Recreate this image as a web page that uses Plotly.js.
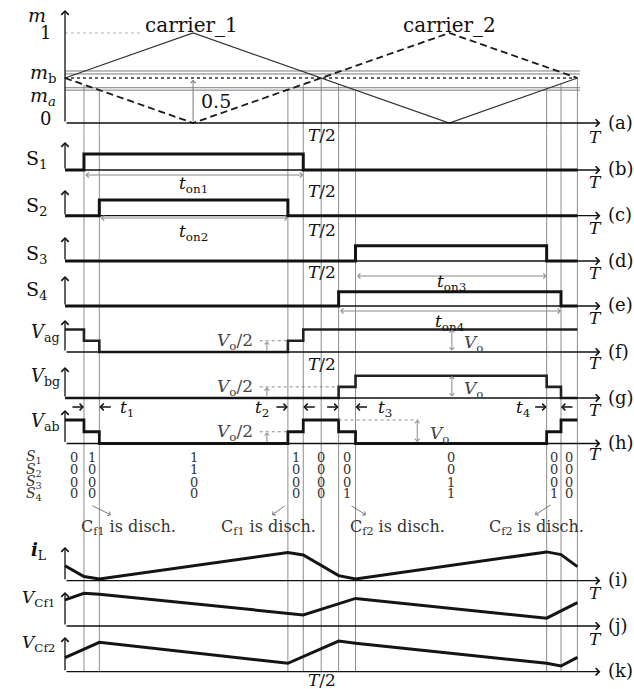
<!DOCTYPE html>
<html>
<head>
<meta charset="utf-8">
<script src="https://cdn.plot.ly/plotly-3.0.1.min.js"></script>
<style>
  html, body { margin: 0; padding: 0; background: #fff; }
  #myDiv { width: 634px; height: 689px; }
</style>
</head>
<body>
<div id="myDiv"></div>
<script>
// all times are in units of the switching period T

// (a) carriers and the two modulation references
var carrierT = [0, 0.25, 0.75, 1];
var carrier1 = [0.5, 1, 0, 0.5];
var carrier2 = [0.5, 0, 1, 0.5];
var refLevels = [0.365, 0.392, 0.545, 0.578];   // m_a and m_b (double lines)
var halfLevel = 0.5;

// instants where the gray guide lines are drawn
var tLines = [0.037, 0.067, 0.435, 0.465, 0.5, 0.534, 0.567, 0.94, 0.968, 1];
// boundaries of the switching states (table columns)
var tStates = [0, 0.037, 0.067, 0.435, 0.465, 0.534, 0.567, 0.94, 0.968, 1];

// (b)-(e) gate signals
var s1T = [0, 0.037, 0.465, 1], s1 = [0, 1, 0, 0];
var s2T = [0, 0.067, 0.435, 1], s2 = [0, 1, 0, 0];
var s3T = [0, 0.567, 0.94, 1],  s3 = [0, 1, 0, 0];
var s4T = [0, 0.534, 0.968, 1], s4 = [0, 1, 0, 0];

// (f)-(h) leg voltages, in units of Vo
var vagT = [0, 0.037, 0.067, 0.435, 0.465, 1];
var vag  = [1, 0.5, 0, 0.5, 1, 1];
var vbgT = [0, 0.534, 0.567, 0.94, 0.968, 1];
var vbg  = [0, 0.5, 1, 0.5, 0, 0];
var vabT = [0, 0.037, 0.067, 0.435, 0.465, 0.534, 0.567, 0.94, 0.968, 1];
var vab  = [1, 0.5, 0, 0.5, 1, 0.5, 0, 0.5, 1, 1];

// switching state table
var stateS1 = [0, 1, 1, 1, 0, 0, 0, 0, 0];
var stateS2 = [0, 0, 1, 0, 0, 0, 0, 0, 0];
var stateS3 = [0, 0, 0, 0, 0, 0, 1, 0, 0];
var stateS4 = [0, 0, 0, 0, 0, 1, 1, 1, 0];

// (i)-(k) inductor current and flying capacitor voltages (normalised)
var iLT = [0, 0.037, 0.067, 0.435, 0.465, 0.534, 0.567, 0.94, 0.968, 1];
var iL  = [0.5, 0.14, 0.06, 0.94, 0.86, 0.17, 0.06, 0.96, 0.87, 0.47];
var vcf1T = [0, 0.037, 0.067, 0.465, 0.567, 0.94, 1];
var vcf1  = [0.87, 1.09, 1.06, 0.37, 0.92, 0.26, 0.78];
var vcf2T = [0, 0.067, 0.435, 0.534, 0.567, 0.94, 0.968, 1];
var vcf2  = [0.47, 0.98, 0.28, 1.02, 0.95, 0.28, 0.19, 0.48];

var discharge = ['C<sub>f1</sub> is disch.', 'C<sub>f1</sub> is disch.', 'C<sub>f2</sub> is disch.', 'C<sub>f2</sub> is disch.'];

// ---------------------------------------------------------------
var W = 634, H = 689;
var X0 = 65, XT = 512.4;          // pixel of t=0 and pixels per T
var FONT = 'DejaVu Serif';
var INK = '#141414', GUIDE = '#8d8d8d';

function py(y) { return 1 - y / H; }
function px(x) { return x / W; }

var panels = [
  {ax: 'y',   base: 123,   unit: 90,   top: 10,  lo: -0.12, hi: 1.12, tY: 137, tag: '(a)'},
  {ax: 'y2',  base: 170,   unit: 16,   top: 142, lo: -0.3, hi: 1.4, tY: 182, tag: '(b)'},
  {ax: 'y3',  base: 215.7, unit: 15.7, top: 190, lo: -0.3, hi: 1.4, tY: 228, tag: '(c)'},
  {ax: 'y4',  base: 261,   unit: 15.3, top: 237, lo: -0.3, hi: 1.4, tY: 273, tag: '(d)'},
  {ax: 'y5',  base: 306,   unit: 14.3, top: 276, lo: -0.3, hi: 1.4, tY: 318, tag: '(e)'},
  {ax: 'y6',  base: 352,   unit: 22.5, top: 320, lo: -0.3, hi: 1.4, tY: 363, tag: '(f)'},
  {ax: 'y7',  base: 398,   unit: 22.2, top: 367, lo: -0.3, hi: 1.4, tY: 410, tag: '(g)'},
  {ax: 'y8',  base: 443.5, unit: 23.5, top: 410, lo: -0.3, hi: 1.4, tY: 454, tag: '(h)'},
  {ax: 'y9',  base: 580.7, unit: 30,   top: 547, lo: -0.2, hi: 1.2, tY: 593, tag: '(i)'},
  {ax: 'y10', base: 626,   unit: 30,   top: 592, lo: -0.2, hi: 1.2, tY: 639, tag: '(j)'},
  {ax: 'y11', base: 671.7, unit: 30,   top: 637, lo: -0.2, hi: 1.2, tY: null, tag: '(k)'}
];

var layout = {
  width: W, height: H,
  margin: {l: 0, r: 0, t: 0, b: 0},
  paper_bgcolor: '#fff', plot_bgcolor: 'rgba(0,0,0,0)',
  showlegend: false,
  xaxis: {range: [-X0 / XT, (W - X0) / XT], domain: [0, 1], visible: false, fixedrange: true},
  annotations: [],
  shapes: []
};

panels.forEach(function (p) {
  var key = p.ax === 'y' ? 'yaxis' : 'yaxis' + p.ax.slice(1);
  p.domain = [py(p.base - p.lo * p.unit), py(p.base - p.hi * p.unit)];
  layout[key] = {domain: p.domain, range: [p.lo, p.hi], anchor: 'x', visible: false, fixedrange: true};
});

function P(id) { return panels.filter(function (p) { return p.tag === '(' + id + ')'; })[0]; }

var data = [];
function line(x, y, ax, style, shape) {
  data.push({x: x, y: y, yaxis: ax, type: 'scatter', mode: 'lines', hoverinfo: 'skip',
             line: Object.assign({shape: shape || 'linear'}, style)});
}

// (a)
refLevels.forEach(function (lv) { line([0, 1.005], [lv, lv], 'y', {color: '#7a7a7a', width: 1}); });
line([0, 1], [halfLevel, halfLevel], 'y', {color: '#333', width: 1.6, dash: 'dot'});
line([0, 0.15], [1, 1], 'y', {color: '#b0b0b0', width: 1, dash: 'dot'});
line(carrierT, carrier1, 'y', {color: '#333', width: 1.3});
line(carrierT, carrier2, 'y', {color: '#1a1a1a', width: 1.8, dash: '7px,4px'});

// gate signals and leg voltages
line(s1T, s1, 'y2', {color: INK, width: 3}, 'hv');
line(s2T, s2, 'y3', {color: INK, width: 3}, 'hv');
line(s3T, s3, 'y4', {color: INK, width: 3}, 'hv');
line(s4T, s4, 'y5', {color: INK, width: 3}, 'hv');
line(vagT, vag, 'y6', {color: '#222', width: 2.6}, 'hv');
line(vbgT, vbg, 'y7', {color: '#222', width: 2.6}, 'hv');
line(vabT, vab, 'y8', {color: INK, width: 2.8}, 'hv');

// Vo/2 guide dotted lines
line([0.38, vagT[3]], [0.5, 0.5], 'y6', {color: '#888', width: 1, dash: 'dot'});
line([0.38, vbgT[1]], [0.5, 0.5], 'y7', {color: '#888', width: 1, dash: 'dot'});
line([0.38, vabT[3]], [0.5, 0.5], 'y8', {color: '#888', width: 1, dash: 'dot'});
line([vabT[5], 0.69], [1, 1], 'y8', {color: '#888', width: 1, dash: 'dot'});

// currents / voltages
line(iLT, iL, 'y9', {color: INK, width: 3});
line(vcf1T, vcf1, 'y10', {color: INK, width: 3});
line(vcf2T, vcf2, 'y11', {color: INK, width: 3});

// gray guide lines
function interp(t, xs, ys) {
  for (var i = 0; i < xs.length - 1; i++) {
    if (t >= xs[i] && t <= xs[i + 1]) return ys[i] + (ys[i + 1] - ys[i]) * (t - xs[i]) / (xs[i + 1] - xs[i]);
  }
  return ys[ys.length - 1];
}
var pa = P('a'), pk = P('k');
tLines.forEach(function (t) {
  var m = Math.min(interp(t, carrierT, carrier1), interp(t, carrierT, carrier2));
  layout.shapes.push({type: 'line', layer: 'below', xref: 'x', yref: 'y', x0: t, x1: t, y0: m, y1: pa.lo,
                      line: {color: GUIDE, width: 1}});
  layout.shapes.push({type: 'line', layer: 'below', xref: 'x', yref: 'paper', x0: t, x1: t,
                      y0: pa.domain[0], y1: py(pk.base), line: {color: GUIDE, width: 1}});
});

// axes with arrow heads
var ann = layout.annotations;
function font(size, color) { return {family: FONT, size: size, color: color || '#111'}; }
panels.forEach(function (p) {
  var topVal = (p.base - p.top) / p.unit;
  ann.push({xref: 'x', yref: p.ax, axref: 'x', ayref: p.ax, x: 0, y: topVal, ax: 0, ay: 0, text: '',
            showarrow: true, arrowhead: 4, arrowsize: 1.1, arrowwidth: 1.3, arrowcolor: '#111', standoff: 0});
  ann.push({xref: 'x', yref: p.ax, axref: 'x', ayref: p.ax, x: 1.045, y: 0, ax: 0, ay: 0, text: '',
            showarrow: true, arrowhead: 4, arrowsize: 1.1, arrowwidth: 1.3, arrowcolor: '#111', standoff: 0});
  ann.push({xref: 'paper', yref: 'paper', x: px(606), y: py(p.base - 1), xanchor: 'left', yanchor: 'middle',
            text: p.tag, showarrow: false, font: font(18)});
  if (p.tY) ann.push({xref: 'paper', yref: 'paper', x: px(595), y: py(p.tY), xanchor: 'center', yanchor: 'middle',
                      text: '<i>T</i>', showarrow: false, font: font(17)});
});

function txt(text, x, y, size, opts) {
  var a = {xref: 'paper', yref: 'paper', x: px(x), y: py(y), text: text, showarrow: false,
           xanchor: 'center', yanchor: 'middle', font: font(size || 16)};
  return ann.push(Object.assign(a, opts || {}));
}

// (a) labels
txt('<i>m</i>', 37, 15, 19);
txt('1', 45, 33, 18);
txt('<i>m</i><sub>b</sub>', 43, 73, 19);
txt('<i>m</i><sub><i>a</i></sub>', 43, 96, 19);
txt('0', 45, 118, 18);
txt('carrier_1', 191, 25, 20);
txt('carrier_2', 449, 25, 20);
txt('0.5', 216, 101, 19);
ann.push({xref: 'x', yref: 'y', axref: 'x', ayref: 'y', x: 0.25, y: halfLevel - 0.02, ax: 0.25, ay: 0, text: '',
          showarrow: true, arrowhead: 4, arrowsize: 1, arrowwidth: 1, arrowcolor: '#777'});

// T/2 marks
[135, 191, 230, 272, 364, 680].forEach(function (y) { txt('<i>T</i>/2', 321.5, y, 17); });

// gate labels
txt('S<sub>1</sub>', 37, 159, 19);
txt('S<sub>2</sub>', 37, 207, 19);
txt('S<sub>3</sub>', 37, 254, 19);
txt('S<sub>4</sub>', 37, 291, 19);
txt('<i>V</i><sub>ag</sub>', 45, 333, 18);
txt('<i>V</i><sub>bg</sub>', 45, 377, 18);
txt('<i>V</i><sub>ab</sub>', 45, 422, 18);
txt('<b><i>i</i></b><sub>L</sub>', 39, 551, 18);
txt('<i>V</i><sub>Cf1</sub>', 57, 598, 17, {xanchor: 'right'});
txt('<i>V</i><sub>Cf2</sub>', 57, 643, 17, {xanchor: 'right'});

// on-time arrows
function span(t0, t1, y, label, ly) {
  ann.push({xref: 'x', yref: 'paper', axref: 'x', ayref: 'pixel', x: t1, y: py(y), ax: t0, ay: 0, text: '',
            showarrow: true, arrowhead: 4, arrowside: 'end+start', arrowsize: 1, arrowwidth: 1, arrowcolor: '#888'});
  ann.push({xref: 'x', yref: 'paper', x: (t0 + t1) / 2, y: py(ly), xanchor: 'center', yanchor: 'middle',
            text: label, showarrow: false, font: font(17)});
}
span(s1T[1], s1T[2], 175, '<i>t</i><sub>on1</sub>', 184);
span(s2T[1], s2T[2], 218, '<i>t</i><sub>on2</sub>', 232);
span(s3T[1], s3T[2], 276, '<i>t</i><sub>on3</sub>', 282);
span(s4T[1], s4T[2], 311, '<i>t</i><sub>on4</sub>', 322);

// Vo/2 and Vo marks
['y6', 'y7', 'y8'].forEach(function (ax, i) {
  var p = panels.filter(function (q) { return q.ax === ax; })[0];
  txt('<i>V</i><sub>o</sub>/2', 235, p.base - 0.5 * p.unit + 1, 17, {font: font(17, '#444')});
  ann.push({xref: 'x', yref: ax, axref: 'x', ayref: ax, x: 0.394, y: 0.47, ax: 0.394, ay: 0, text: '',
            showarrow: true, arrowhead: 4, arrowsize: 0.9, arrowwidth: 1, arrowcolor: '#888'});
  var xv = i < 2 ? 0.755 : 0.6875;
  ann.push({xref: 'x', yref: ax, axref: 'x', ayref: ax, x: xv, y: 1, ax: xv, ay: 0, text: '',
            showarrow: true, arrowhead: 4, arrowside: 'end+start', arrowsize: 0.9, arrowwidth: 1, arrowcolor: '#888'});
  ann.push({xref: 'x', yref: ax, x: xv + 0.02, y: 0.38, xanchor: 'left', yanchor: 'middle', text: '<i>V</i><sub>o</sub>',
            showarrow: false, font: font(17, '#444')});
});

// interval arrows t1..t4
var tick = [[0.037, -1], [0.067, 1], [0.435, -1], [0.465, 1], [0.534, -1], [0.567, 1], [0.94, -1], [0.968, 1]];
tick.forEach(function (k) {
  ann.push({xref: 'x', yref: 'paper', x: k[0], y: py(407), ax: k[1] * 13, ay: 0, text: '',
            showarrow: true, arrowhead: 4, arrowsize: 1, arrowwidth: 1.3, arrowcolor: '#111'});
});
txt('<i>t</i><sub>1</sub>', 127, 408, 17);
txt('<i>t</i><sub>2</sub>', 262, 408, 17);
txt('<i>t</i><sub>3</sub>', 385, 408, 17);
txt('<i>t</i><sub>4</sub>', 523, 408, 17);

// switching state table
var rows = [stateS1, stateS2, stateS3, stateS4];
var rowY = [457, 469.5, 482, 494];
rows.forEach(function (r, i) {
  txt('<i>S</i><sub>' + (i + 1) + '</sub>', 34, rowY[i], 14, {font: font(14, '#333')});
  r.forEach(function (v, j) {
    ann.push({xref: 'x', yref: 'paper', x: (tStates[j] + tStates[j + 1]) / 2, y: py(rowY[i]),
              xanchor: 'center', yanchor: 'middle', text: String(v),
              showarrow: false, font: font(13, '#333')});
  });
});

// discharge notes
var notes = [[111, 515, -20, -10, 128], [272, 515, 14, -10, 268], [366, 515, -16, -10, 397], [535, 515, 17, -11, 536]];
notes.forEach(function (n, i) {
  ann.push({xref: 'paper', yref: 'paper', x: px(n[0]), y: py(n[1]), ax: n[2], ay: n[3], text: '',
            showarrow: true, arrowhead: 4, arrowsize: 0.9, arrowwidth: 1, arrowcolor: '#777'});
  txt(discharge[i], n[4], 527, 16, {font: font(16, '#333')});
});

Plotly.newPlot('myDiv', data, layout, {staticPlot: true, displayModeBar: false});
</script>
</body>
</html>
